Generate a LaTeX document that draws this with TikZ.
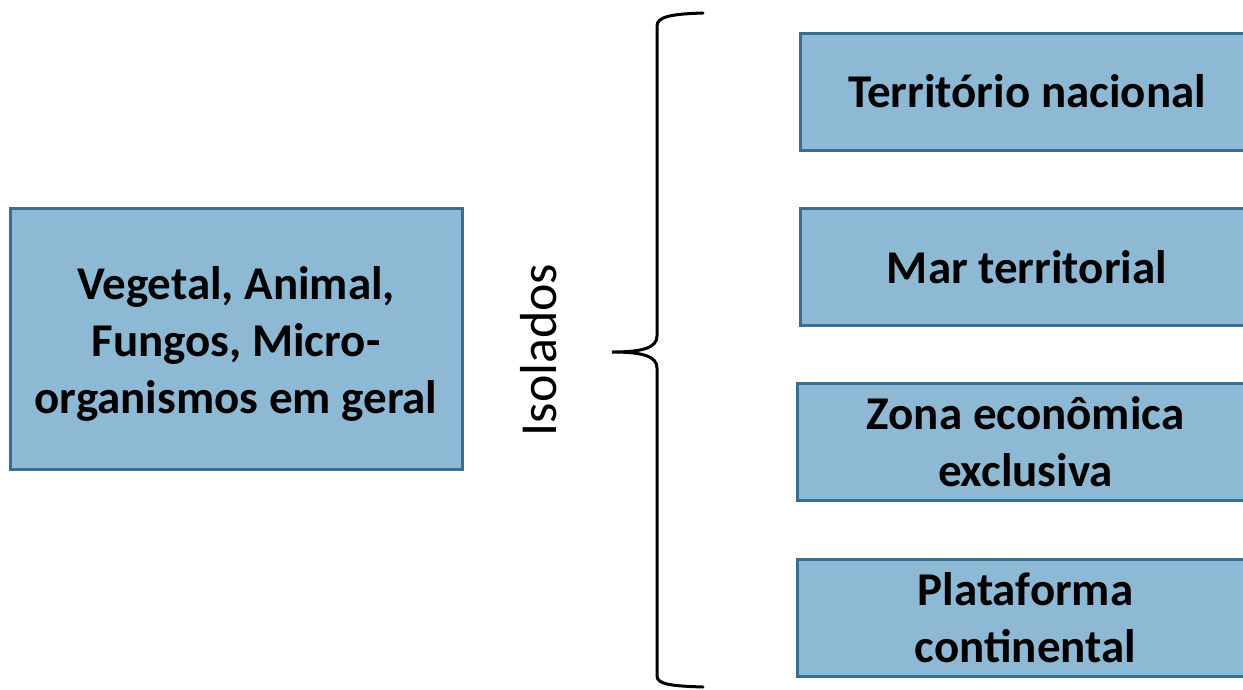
\documentclass[tikz,border=0pt]{standalone}
\usepackage{fontspec}
\setmainfont{Carlito}
\definecolor{boxfill}{HTML}{8DB9D5}
\definecolor{boxline}{HTML}{3A6E8F}
\begin{document}
\begin{tikzpicture}[x=1pt,y=-1pt,
  infobox/.style={draw=boxline, fill=boxfill, line width=3pt, align=center,
    font=\fontsize{47}{57}\selectfont\bfseries, inner sep=0pt},
  boxtext/.style={align=center, font=\fontsize{47}{57}\selectfont\bfseries, inner sep=0pt},
  bracestroke/.style={draw=black, line width=3pt, line cap=round}]
  \useasboundingbox (0,0) rectangle (1243,689);
  \begin{scope}
    \clip (0,0) rectangle (1243,689);
    % left category box, its text set a little low in the box
    \node[infobox, minimum width=452pt, minimum height=261pt] (kinds) at (236,338.5) {};
    \node[boxtext, yshift=-5pt] (kindstext) at (kinds.center)
      {Vegetal, Animal,\\Fungos, Micro-\\organismos em geral};
    % right column of areas
    \node[infobox, minimum width=454pt, minimum height=117pt] (terr) at (1027,91.5)
      {Território nacional};
    \node[infobox, minimum width=454pt, minimum height=117pt] (mar) at (1027,267)
      {Mar territorial};
    \node[infobox, minimum width=457pt, minimum height=117pt] (zona) at (1025.5,442)
      {Zona econômica\\exclusiva};
    \node[infobox, minimum width=457pt, minimum height=117pt] (plat) at (1025.5,618)
      {Plataforma\\continental};
  \end{scope}
  % vertical label
  \node[rotate=90, font=\fontsize{52}{60}\selectfont, inner sep=0pt] (iso) at (539,350) {Isolados};
  % curly brace grouping the areas
  \coordinate (btop) at (703,13);
  \coordinate (btip) at (612,352);
  \coordinate (bbot) at (703,687);
  \draw[bracestroke] (btop) .. controls (670,14) and (657,17) .. (657,26)
    -- (657,336) .. controls (657,348) and (642,352) .. (btip)
    .. controls (642,352) and (657,356) .. (657,368)
    -- (657,676) .. controls (657,684) and (670,686) .. (bbot);
\end{tikzpicture}
\end{document}
